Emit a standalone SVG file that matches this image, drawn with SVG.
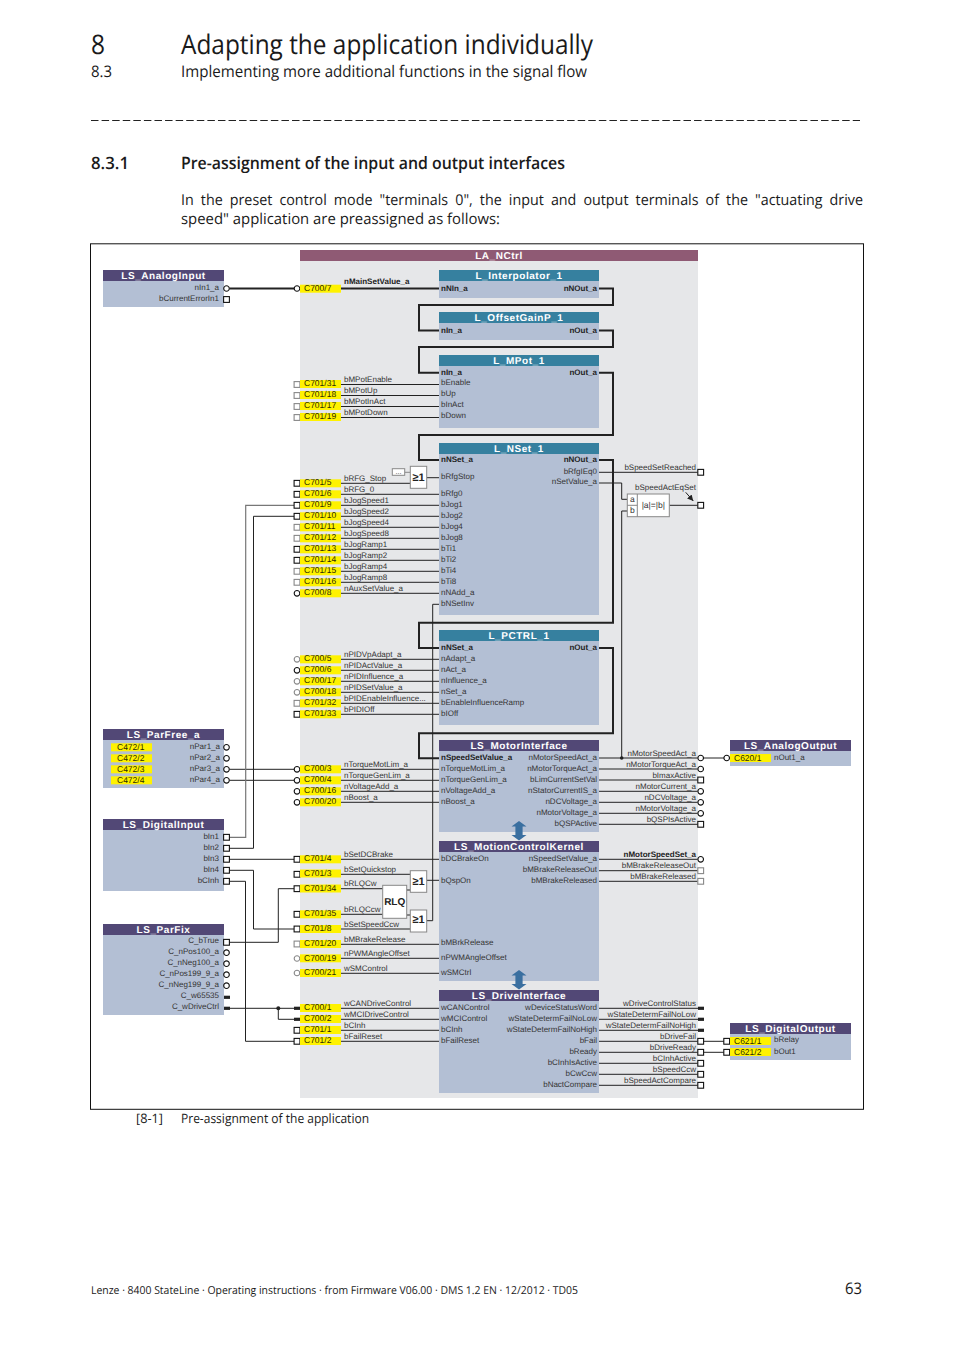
<svg xmlns="http://www.w3.org/2000/svg" width="954" height="1350" viewBox="0 0 954 1350">
<style>
text{font-family:"Liberation Sans",Arial,sans-serif;font-size:8px;fill:#333;text-rendering:geometricPrecision}
.p{font-family:"Open Sans","Noto Sans",sans-serif;fill:#1a1a1a}
.pb{font-weight:600}
.h{font-size:10px;font-weight:700;fill:#fff;text-anchor:middle;letter-spacing:.55px}
.e{text-anchor:end}
.c{font-size:8.5px;fill:#2c2a00}
.b{font-weight:700;fill:#222}
.hp{fill:#524876}.ht{fill:#36809f}.bd{fill:#b3bfd4}.yb{fill:#fff200}
.k{fill:#fff;stroke:#111;stroke-width:1.1}
.g{fill:#fff;stroke:#888;stroke-width:1.1}
.bar{fill:#222}
.gate{fill:#fff;stroke:#888;stroke-width:1}
.w{fill:none;stroke:#222;stroke-width:1}
.tk{fill:none;stroke:#222;stroke-width:2}
.gr{fill:none;stroke:#777;stroke-width:1.2}
.gt{font-size:11px;font-weight:700;fill:#222;text-anchor:middle}
</style>
<defs>
<rect id="sq" x="-2.9" y="-2.9" width="5.8" height="5.8"/>
<circle id="ci" r="2.8"/>
<rect id="bar" x="-3" y="-1.6" width="6" height="3.2"/>
<rect id="yb" class="yb" width="41" height="8"/>
<marker id="ah" markerWidth="7" markerHeight="7" refX="6" refY="3" orient="auto"><path d="M0 0L6 3L0 6z" fill="#222"/></marker>
<path id="dbl" d="M0 0L7.5 5.5H3.6V14H7.5L0 19.5L-7.5 14H-3.6V5.5H-7.5z" fill="#3a6fa0"/>
</defs>

<g id="page-text">
<text class="p" x="91" y="53.5" style="font-size:27px" textLength="14" lengthAdjust="spacingAndGlyphs">8</text>
<text class="p" x="181" y="53.5" style="font-size:27px" textLength="412" lengthAdjust="spacingAndGlyphs">Adapting the application individually</text>
<text class="p" x="91" y="77" style="font-size:16px" textLength="21" lengthAdjust="spacingAndGlyphs">8.3</text>
<text class="p" x="181" y="77" style="font-size:16px" textLength="406" lengthAdjust="spacingAndGlyphs">Implementing more additional functions in the signal flow</text>
<path d="M91 120.5H860" stroke="#222" stroke-width="1" stroke-dasharray="7.5 3.08" fill="none"/>
<text class="p pb" x="91" y="169" style="font-size:17px" textLength="38" lengthAdjust="spacingAndGlyphs">8.3.1</text>
<text class="p pb" x="181" y="169" style="font-size:17px" textLength="384" lengthAdjust="spacingAndGlyphs">Pre-assignment of the input and output interfaces</text>
<text class="p" x="181" y="205" style="font-size:15px;word-spacing:3.5px" textLength="682" lengthAdjust="spacingAndGlyphs">In the preset control mode "terminals 0", the input and output terminals of the "actuating drive</text>
<text class="p" x="181" y="224" style="font-size:15px" textLength="319" lengthAdjust="spacingAndGlyphs">speed" application are preassigned as follows:</text>
<text class="p" x="136" y="1123" style="font-size:13px" textLength="27" lengthAdjust="spacingAndGlyphs">[8-1]</text>
<text class="p" x="181" y="1123" style="font-size:13px" textLength="188" lengthAdjust="spacingAndGlyphs">Pre-assignment of the application</text>
<text class="p" x="91" y="1294" style="font-size:11px" textLength="487" lengthAdjust="spacingAndGlyphs">Lenze · 8400 StateLine · Operating instructions · from Firmware V06.00 · DMS 1.2 EN · 12/2012 · TD05</text>
<text class="p" x="845" y="1294" style="font-size:16px" textLength="17" lengthAdjust="spacingAndGlyphs">63</text>
</g>

<rect id="frame" x="90.5" y="243.8" width="773" height="865.5" fill="#fff" stroke="#111" stroke-width="1"/>

<g id="LA_NCtrl">
<rect x="300" y="261" width="398" height="837" fill="#e6e7e9"/>
<rect x="300" y="250" width="398" height="11" fill="#8f5a74"/>
<text class="h" x="499" y="259">LA_NCtrl</text>
</g>

<g id="connectors">
<path class="tk" d="M229.5 288.5H294.5M341 288.5H439M599 288.5H613V305H419V330.5H439M599 330.5H613V347H419V372.7H439M599 372.7H613V435H419V460H439M599 460H613V622.7H419V648H439M599 648H613V733.3H419V758.3H439"/>
<path class="w" d="M341 384.5H439M341 395.5H439M341 406.5H439M341 417.5H439
M341 483.3H410.3M426.7 477.7H439M341 494.3H439M341 505.3H439M341 516.3H439M341 527.3H439M341 538.3H439M341 549.3H439M341 560.3H439M341 571.3H439M341 582.3H439M341 593.3H439
M426.7 920.7H432.7V604.3H439
M599 472.3H697.7M599 483H621.7V499.3H627.3M669.3 505.3H697.7M627.3 511H621.7V758
M341 659.3H439M341 670.3H439M341 681.3H439M341 692.3H439M341 703.3H439M341 714.3H439
M229.5 769.3H294.5M229.5 780.3H294.5M341 769.3H439M341 780.3H439M341 791.3H439M341 802.3H439
M599 758H697.7M703.6 758H724M599 769H697.7M599 780H697.7M599 791.3H697.7M599 802.3H697.7M599 813.3H697.7M599 824.3H697.7
M229.5 859.3H294M341 859.3H439M341 874.3H410.3M341 888.7H382.7M341 914.3H382.7M341 929H410.3M406.7 890H410.3M406.7 915H410.3M426.7 880.3H439
M341 944.3H439M341 958.3H439M341 973.3H439
M599 859.3H697.7M599 870.7H697.7M599 881.3H697.7
M229.5 870.3H253.5V929H294M229.5 848.3H253.5V516.3H294M229.5 881.3H245.5V1041.3H294M229.5 942.3H278.3V888.7H294
M230 1008.3H294M278.3 1008.3V1019.3H294M341 1008.3H439M341 1019.3H439M341 1030.3H439M341 1041.3H439
M599 1008.3H698M599 1019.3H698M599 1030.3H698M599 1041.3H697.7M599 1052.3H697.7M599 1063.3H697.7M599 1074.3H697.7M599 1085.3H697.7M703.6 1041.3H724M703.6 1052.3H724"/>
<path class="gr" d="M229.5 837.3H245.7V505.3H294"/>
<path d="M404.7 472.3H410.3" stroke="#888" fill="none"/>
<path d="M685.7 492.3L693.3 501" stroke="#222" fill="none" marker-end="url(#ah)"/>
<circle cx="621.7" cy="758" r="1.8" fill="#222"/>
<circle cx="278.3" cy="1008.3" r="2" fill="#222"/>
</g>

<g id="LS_AnalogInput">
<rect class="bd" x="103" y="281" width="121" height="26"/><rect class="hp" x="103" y="270" width="121" height="11"/>
<text class="h" x="163.5" y="279">LS_AnalogInput</text>
<text class="e" x="219" y="290">nIn1_a</text><text class="e" x="219" y="301">bCurrentErrorIn1</text>
<use href="#ci" class="k" x="226.5" y="288.5"/><use href="#sq" class="k" x="226.5" y="299.5"/>
</g>

<g id="LS_ParFree_a">
<rect class="bd" x="103" y="740" width="121" height="48"/><rect class="hp" x="103" y="729" width="121" height="11"/>
<text class="h" x="163.5" y="738">LS_ParFree_a</text>
<use href="#yb" x="111" y="743.3"/><use href="#yb" x="111" y="754.3"/><use href="#yb" x="111" y="765.3"/><use href="#yb" x="111" y="776.3"/>
<text class="c" x="117" y="749.5">C472/1</text><text class="c" x="117" y="760.5">C472/2</text><text class="c" x="117" y="771.5">C472/3</text><text class="c" x="117" y="782.5">C472/4</text>
<text class="e" x="220" y="749">nPar1_a</text><text class="e" x="220" y="760">nPar2_a</text><text class="e" x="220" y="771">nPar3_a</text><text class="e" x="220" y="782">nPar4_a</text>
<use href="#ci" class="k" x="226.5" y="747.3"/><use href="#ci" class="k" x="226.5" y="758.3"/><use href="#ci" class="k" x="226.5" y="769.3"/><use href="#ci" class="k" x="226.5" y="780.3"/>
</g>

<g id="LS_DigitalInput">
<rect class="bd" x="103" y="830" width="121" height="61"/><rect class="hp" x="103" y="819" width="121" height="11"/>
<text class="h" x="163.5" y="828">LS_DigitalInput</text>
<text class="e" x="219" y="839">bIn1</text><text class="e" x="219" y="850">bIn2</text><text class="e" x="219" y="861">bIn3</text><text class="e" x="219" y="872">bIn4</text><text class="e" x="219" y="883">bCInh</text>
<use href="#sq" class="k" x="226.5" y="837.3"/><use href="#sq" class="k" x="226.5" y="848.3"/><use href="#sq" class="k" x="226.5" y="859.3"/><use href="#sq" class="k" x="226.5" y="870.3"/><use href="#sq" class="k" x="226.5" y="881.3"/>
</g>

<g id="LS_ParFix">
<rect class="bd" x="103" y="935" width="121" height="80"/><rect class="hp" x="103" y="924" width="121" height="11"/>
<text class="h" x="163.5" y="933">LS_ParFix</text>
<text class="e" x="219" y="943">C_bTrue</text><text class="e" x="219" y="954">C_nPos100_a</text><text class="e" x="219" y="965">C_nNeg100_a</text><text class="e" x="219" y="976">C_nPos199_9_a</text><text class="e" x="219" y="987">C_nNeg199_9_a</text><text class="e" x="219" y="998">C_w65535</text><text class="e" x="219" y="1009">C_wDriveCtrl</text>
<use href="#sq" class="k" x="226.5" y="942.3"/><use href="#ci" class="k" x="226.5" y="952.7"/><use href="#ci" class="k" x="226.5" y="963.7"/><use href="#ci" class="k" x="226.5" y="974.7"/><use href="#ci" class="k" x="226.5" y="985.7"/><use href="#bar" class="bar" x="227" y="997.3"/><use href="#bar" class="bar" x="227" y="1008.3"/>
</g>

<g id="terminals-main">
<use href="#ci" class="k" x="297" y="288.5"/><use href="#yb" x="300" y="284.7"/><text class="c" x="304" y="291">C700/7</text><text class="b" x="344" y="284">nMainSetValue_a</text>
<use href="#sq" class="g" x="297" y="384.5"/><use href="#yb" x="300" y="380"/><text class="c" x="304" y="386.3">C701/31</text><text x="344" y="382">bMPotEnable</text>
<use href="#sq" class="g" x="297" y="395.5"/><use href="#yb" x="300" y="391"/><text class="c" x="304" y="397.3">C701/18</text><text x="344" y="393">bMPotUp</text>
<use href="#sq" class="g" x="297" y="406.5"/><use href="#yb" x="300" y="402"/><text class="c" x="304" y="408.3">C701/17</text><text x="344" y="404">bMPotInAct</text>
<use href="#sq" class="g" x="297" y="417.5"/><use href="#yb" x="300" y="413"/><text class="c" x="304" y="419.3">C701/19</text><text x="344" y="415">bMPotDown</text>
</g>

<g id="terminals-nset">
<use href="#sq" class="k" x="297" y="483.3"/><use href="#yb" x="300" y="479.3"/><text class="c" x="304" y="485.3">C701/5</text><text x="344" y="480.8">bRFG_Stop</text>
<use href="#sq" class="k" x="297" y="494.3"/><use href="#yb" x="300" y="490.3"/><text class="c" x="304" y="496.3">C701/6</text><text x="344" y="491.8">bRFG_0</text>
<use href="#sq" class="k" x="297" y="505.3"/><use href="#yb" x="300" y="501.3"/><text class="c" x="304" y="507.3">C701/9</text><text x="344" y="502.8">bJogSpeed1</text>
<use href="#sq" class="k" x="297" y="516.3"/><use href="#yb" x="300" y="512.3"/><text class="c" x="304" y="518.3">C701/10</text><text x="344" y="513.8">bJogSpeed2</text>
<use href="#sq" class="g" x="297" y="527.3"/><use href="#yb" x="300" y="523.3"/><text class="c" x="304" y="529.3">C701/11</text><text x="344" y="524.8">bJogSpeed4</text>
<use href="#sq" class="g" x="297" y="538.3"/><use href="#yb" x="300" y="534.3"/><text class="c" x="304" y="540.3">C701/12</text><text x="344" y="535.8">bJogSpeed8</text>
<use href="#sq" class="k" x="297" y="549.3"/><use href="#yb" x="300" y="545.3"/><text class="c" x="304" y="551.3">C701/13</text><text x="344" y="546.8">bJogRamp1</text>
<use href="#sq" class="k" x="297" y="560.3"/><use href="#yb" x="300" y="556.3"/><text class="c" x="304" y="562.3">C701/14</text><text x="344" y="557.8">bJogRamp2</text>
<use href="#sq" class="g" x="297" y="571.3"/><use href="#yb" x="300" y="567.3"/><text class="c" x="304" y="573.3">C701/15</text><text x="344" y="568.8">bJogRamp4</text>
<use href="#sq" class="g" x="297" y="582.3"/><use href="#yb" x="300" y="578.3"/><text class="c" x="304" y="584.3">C701/16</text><text x="344" y="579.8">bJogRamp8</text>
<use href="#ci" class="k" x="297" y="593.3"/><use href="#yb" x="300" y="589.3"/><text class="c" x="304" y="595.3">C700/8</text><text x="344" y="590.8">nAuxSetValue_a</text>
</g>

<g id="terminals-pctrl">
<use href="#ci" class="g" x="297" y="659.3"/><use href="#yb" x="300" y="655.3"/><text class="c" x="304" y="661.3">C700/5</text><text x="344" y="656.8">nPIDVpAdapt_a</text>
<use href="#ci" class="k" x="297" y="670.3"/><use href="#yb" x="300" y="666.3"/><text class="c" x="304" y="672.3">C700/6</text><text x="344" y="667.8">nPIDActValue_a</text>
<use href="#ci" class="g" x="297" y="681.3"/><use href="#yb" x="300" y="677.3"/><text class="c" x="304" y="683.3">C700/17</text><text x="344" y="678.8">nPIDInfluence_a</text>
<use href="#ci" class="g" x="297" y="692.3"/><use href="#yb" x="300" y="688.3"/><text class="c" x="304" y="694.3">C700/18</text><text x="344" y="689.8">nPIDSetValue_a</text>
<use href="#sq" class="g" x="297" y="703.3"/><use href="#yb" x="300" y="699.3"/><text class="c" x="304" y="705.3">C701/32</text><text x="344" y="700.8">bPIDEnableInfluence...</text>
<use href="#sq" class="k" x="297" y="714.3"/><use href="#yb" x="300" y="710.3"/><text class="c" x="304" y="716.3">C701/33</text><text x="344" y="711.8">bPIDIOff</text>
</g>

<g id="terminals-motor">
<use href="#ci" class="k" x="297" y="769.3"/><use href="#yb" x="300" y="765.3"/><text class="c" x="304" y="771.3">C700/3</text><text x="344" y="766.8">nTorqueMotLim_a</text>
<use href="#ci" class="k" x="297" y="780.3"/><use href="#yb" x="300" y="776.3"/><text class="c" x="304" y="782.3">C700/4</text><text x="344" y="777.8">nTorqueGenLim_a</text>
<use href="#ci" class="k" x="297" y="791.3"/><use href="#yb" x="300" y="787.3"/><text class="c" x="304" y="793.3">C700/16</text><text x="344" y="788.8">nVoltageAdd_a</text>
<use href="#ci" class="k" x="297" y="802.3"/><use href="#yb" x="300" y="798.3"/><text class="c" x="304" y="804.3">C700/20</text><text x="344" y="799.8">nBoost_a</text>
</g>

<g id="terminals-kernel">
<use href="#sq" class="k" x="297" y="859.3"/><use href="#yb" x="300" y="855.3"/><text class="c" x="304" y="861.3">C701/4</text><text x="344" y="856.8">bSetDCBrake</text>
<use href="#sq" class="k" x="297" y="874.3"/><use href="#yb" x="300" y="869.5"/><text class="c" x="304" y="875.8">C701/3</text><text x="344" y="871.5">bSetQuickstop</text>
<use href="#sq" class="k" x="297" y="888.7"/><use href="#yb" x="300" y="884.5"/><text class="c" x="304" y="890.8">C701/34</text><text x="344" y="885.5">bRLQCw</text>
<use href="#sq" class="k" x="297" y="914.3"/><use href="#yb" x="300" y="910.3"/><text class="c" x="304" y="916.3">C701/35</text><text x="344" y="911.7">bRLQCcw</text>
<use href="#sq" class="k" x="297" y="929"/><use href="#yb" x="300" y="925"/><text class="c" x="304" y="931">C701/8</text><text x="344" y="926.7">bSetSpeedCcw</text>
<use href="#sq" class="g" x="297" y="944"/><use href="#yb" x="300" y="940"/><text class="c" x="304" y="946">C701/20</text><text x="344" y="941.7">bMBrakeRelease</text>
<use href="#ci" class="g" x="297" y="958.5"/><use href="#yb" x="300" y="954.3"/><text class="c" x="304" y="960.5">C700/19</text><text x="344" y="955.7">nPWMAngleOffset</text>
<use href="#ci" class="g" x="297" y="973"/><use href="#yb" x="300" y="969"/><text class="c" x="304" y="975">C700/21</text><text x="344" y="970.7">wSMControl</text>
</g>

<g id="terminals-drive">
<use href="#bar" class="bar" x="297" y="1008.3"/><use href="#yb" x="300" y="1004"/><text class="c" x="304" y="1010.3">C700/1</text><text x="344" y="1005.7">wCANDriveControl</text>
<use href="#bar" class="bar" x="297" y="1019.3"/><use href="#yb" x="300" y="1015"/><text class="c" x="304" y="1021.3">C700/2</text><text x="344" y="1016.7">wMCIDriveControl</text>
<use href="#sq" class="k" x="297" y="1030.3"/><use href="#yb" x="300" y="1026"/><text class="c" x="304" y="1032.3">C701/1</text><text x="344" y="1027.7">bCInh</text>
<use href="#sq" class="k" x="297" y="1041.3"/><use href="#yb" x="300" y="1037"/><text class="c" x="304" y="1043.3">C701/2</text><text x="344" y="1038.7">bFailReset</text>
</g>

<g id="L_Interpolator_1">
<rect class="bd" x="439" y="281" width="160" height="17"/><rect class="ht" x="439" y="270" width="160" height="11"/>
<text class="h" x="519" y="279">L_Interpolator_1</text>
<text class="b" x="441" y="290.5">nNIn_a</text><text class="b e" x="597" y="290.5">nNOut_a</text>
</g>
<g id="L_OffsetGainP_1">
<rect class="bd" x="439" y="323" width="160" height="17"/><rect class="ht" x="439" y="312" width="160" height="11"/>
<text class="h" x="519" y="321">L_OffsetGainP_1</text>
<text class="b" x="441" y="332.5">nIn_a</text><text class="b e" x="597" y="332.5">nOut_a</text>
</g>
<g id="L_MPot_1">
<rect class="bd" x="439" y="366" width="160" height="62"/><rect class="ht" x="439" y="355" width="160" height="11"/>
<text class="h" x="519" y="364">L_MPot_1</text>
<text class="b" x="441" y="374.5">nIn_a</text><text class="b e" x="597" y="374.5">nOut_a</text>
<text x="441" y="385">bEnable</text><text x="441" y="396">bUp</text><text x="441" y="407">bInAct</text><text x="441" y="418">bDown</text>
</g>
<g id="L_NSet_1">
<rect class="bd" x="439" y="454" width="160" height="161"/><rect class="ht" x="439" y="443" width="160" height="11"/>
<text class="h" x="519" y="452">L_NSet_1</text>
<text class="b" x="441" y="461.8">nNSet_a</text><text class="b e" x="597" y="461.8">nNOut_a</text>
<text class="e" x="597" y="473.5">bRfgIEq0</text><text class="e" x="597" y="484">nSetValue_a</text>
<text x="441" y="479">bRfgStop</text><text x="441" y="495.7">bRfg0</text><text x="441" y="507">bJog1</text><text x="441" y="518">bJog2</text><text x="441" y="529">bJog4</text><text x="441" y="540">bJog8</text><text x="441" y="551">bTi1</text><text x="441" y="562">bTi2</text><text x="441" y="573">bTi4</text><text x="441" y="584">bTi8</text><text x="441" y="595">nNAdd_a</text><text x="441" y="606">bNSetInv</text>
</g>
<g id="L_PCTRL_1">
<rect class="bd" x="439" y="641" width="160" height="84"/><rect class="ht" x="439" y="630" width="160" height="11"/>
<text class="h" x="519" y="639">L_PCTRL_1</text>
<text class="b" x="441" y="650">nNSet_a</text><text class="b e" x="597" y="650">nOut_a</text>
<text x="441" y="661">nAdapt_a</text><text x="441" y="672">nAct_a</text><text x="441" y="683">nInfluence_a</text><text x="441" y="694">nSet_a</text><text x="441" y="705">bEnableInfluenceRamp</text><text x="441" y="716">bIOff</text>
</g>
<g id="LS_MotorInterface">
<rect class="bd" x="439" y="751" width="160" height="81"/><rect class="hp" x="439" y="740" width="160" height="11"/>
<text class="h" x="519" y="749">LS_MotorInterface</text>
<text class="b" x="441" y="760">nSpeedSetValue_a</text><text x="441" y="771">nTorqueMotLim_a</text><text x="441" y="782">nTorqueGenLim_a</text><text x="441" y="793">nVoltageAdd_a</text><text x="441" y="804">nBoost_a</text>
<text class="e" x="597" y="760">nMotorSpeedAct_a</text><text class="e" x="597" y="771">nMotorTorqueAct_a</text><text class="e" x="597" y="782">bLimCurrentSetVal</text><text class="e" x="597" y="793">nStatorCurrentIS_a</text><text class="e" x="597" y="804">nDCVoltage_a</text><text class="e" x="597" y="815">nMotorVoltage_a</text><text class="e" x="597" y="826">bQSPActive</text>
</g>
<g id="LS_MotionControlKernel">
<rect class="bd" x="439" y="852" width="160" height="129"/><rect class="hp" x="439" y="841" width="160" height="11"/>
<text class="h" x="519" y="850">LS_MotionControlKernel</text>
<text x="441" y="861">bDCBrakeOn</text><text x="441" y="882.7">bQspOn</text><text x="441" y="945">bMBrkRelease</text><text x="441" y="960">nPWMAngleOffset</text><text x="441" y="975">wSMCtrl</text>
<text class="e" x="597" y="861">nSpeedSetValue_a</text><text class="e" x="597" y="872">bMBrakeReleaseOut</text><text class="e" x="597" y="882.7">bMBrakeReleased</text>
</g>
<g id="LS_DriveInterface">
<rect class="bd" x="439" y="1001" width="160" height="92"/><rect class="hp" x="439" y="990" width="160" height="11"/>
<text class="h" x="519" y="998.5">LS_DriveInterface</text>
<text x="441" y="1009.8">wCANControl</text><text x="441" y="1020.8">wMCIControl</text><text x="441" y="1031.8">bCInh</text><text x="441" y="1042.8">bFailReset</text>
<text class="e" x="597" y="1009.8">wDeviceStatusWord</text><text class="e" x="597" y="1020.8">wStateDetermFailNoLow</text><text class="e" x="597" y="1031.8">wStateDetermFailNoHigh</text><text class="e" x="597" y="1042.8">bFail</text><text class="e" x="597" y="1053.8">bReady</text><text class="e" x="597" y="1064.8">bCInhIsActive</text><text class="e" x="597" y="1075.8">bCwCcw</text><text class="e" x="597" y="1086.8">bNactCompare</text>
</g>
<g id="coupling-arrows">
<use href="#dbl" x="519" y="821"/><use href="#dbl" x="519" y="970"/>
</g>

<g id="gate-or-1">
<rect class="gate" x="392.3" y="468.7" width="12.4" height="6.6"/><text x="398.5" y="474" text-anchor="middle" style="font-size:7px">...</text>
<rect class="gate" x="410.3" y="466.3" width="16.4" height="22"/><text class="gt" x="418.5" y="480.5">≥1</text>
</g>
<g id="gate-or-2"><rect class="gate" x="410.3" y="870.7" width="16.4" height="21.6"/><text class="gt" x="418.5" y="884.5">≥1</text></g>
<g id="gate-or-3"><rect class="gate" x="410.3" y="910" width="16.4" height="22"/><text class="gt" x="418.5" y="923">≥1</text></g>
<g id="gate-rlq"><rect class="gate" x="382.7" y="885.3" width="24" height="33"/><text class="gt" x="394.7" y="904.5" style="font-size:10px">RLQ</text></g>
<g id="gate-compare">
<rect class="gate" x="627.3" y="494" width="42" height="22.7"/><path d="M637.3 494V516.7M627.3 505.3H637.3" stroke="#888" fill="none"/>
<text x="632.3" y="501.5" text-anchor="middle" style="font-size:8.5px">a</text><text x="632.3" y="513" text-anchor="middle" style="font-size:8.5px">b</text>
<text x="653.3" y="507.5" text-anchor="middle" style="font-size:8.5px">|a|=|b|</text>
</g>

<g id="outputs">
<text class="e" x="696" y="469.7">bSpeedSetReached</text><use href="#sq" class="k" x="700.7" y="472.3"/>
<text class="e" x="696" y="490">bSpeedActEqSet</text><use href="#sq" class="k" x="700.7" y="505.3"/>
<text class="e" x="696" y="755.7">nMotorSpeedAct_a</text><use href="#ci" class="k" x="700.7" y="758"/>
<text class="e" x="696" y="766.7">nMotorTorqueAct_a</text><use href="#ci" class="k" x="700.7" y="769"/>
<text class="e" x="696" y="777.7">bImaxActive</text><use href="#sq" class="k" x="700.7" y="780"/>
<text class="e" x="696" y="788.7">nMotorCurrent_a</text><use href="#ci" class="k" x="700.7" y="791.3"/>
<text class="e" x="696" y="799.7">nDCVoltage_a</text><use href="#ci" class="k" x="700.7" y="802.3"/>
<text class="e" x="696" y="810.7">nMotorVoltage_a</text><use href="#ci" class="k" x="700.7" y="813.3"/>
<text class="e" x="696" y="821.7">bQSPIsActive</text><use href="#sq" class="k" x="700.7" y="824.3"/>
<text class="b e" x="696" y="856.7">nMotorSpeedSet_a</text><use href="#ci" class="k" x="700.7" y="859.3"/>
<text class="e" x="696" y="867.7">bMBrakeReleaseOut</text><use href="#sq" class="g" x="700.7" y="870.7"/>
<text class="e" x="696" y="878.7">bMBrakeReleased</text><use href="#sq" class="g" x="700.7" y="881.3"/>
<text class="e" x="696" y="1005.7">wDriveControlStatus</text><use href="#bar" class="bar" x="701" y="1008.3"/>
<text class="e" x="696" y="1016.7">wStateDetermFailNoLow</text><use href="#bar" class="bar" x="701" y="1019.3"/>
<text class="e" x="696" y="1027.7">wStateDetermFailNoHigh</text><use href="#bar" class="bar" x="701" y="1030.3"/>
<text class="e" x="696" y="1038.7">bDriveFail</text><use href="#sq" class="k" x="700.7" y="1041.3"/>
<text class="e" x="696" y="1049.7">bDriveReady</text><use href="#sq" class="k" x="700.7" y="1052.3"/>
<text class="e" x="696" y="1060.7">bCInhActive</text><use href="#sq" class="k" x="700.7" y="1063.3"/>
<text class="e" x="696" y="1071.7">bSpeedCcw</text><use href="#sq" class="k" x="700.7" y="1074.3"/>
<text class="e" x="696" y="1082.7">bSpeedActCompare</text><use href="#sq" class="k" x="700.7" y="1085.3"/>
</g>

<g id="LS_AnalogOutput">
<rect class="bd" x="730" y="751" width="121" height="15"/><rect class="hp" x="730" y="740" width="121" height="11"/>
<text class="h" x="790.5" y="749">LS_AnalogOutput</text>
<use href="#ci" class="k" x="726.7" y="758"/><use href="#yb" x="730" y="754"/><text class="c" x="734" y="760.5">C620/1</text><text x="774" y="760">nOut1_a</text>
</g>
<g id="LS_DigitalOutput">
<rect class="bd" x="730" y="1034" width="121" height="26"/><rect class="hp" x="730" y="1023" width="121" height="11"/>
<text class="h" x="790.5" y="1032">LS_DigitalOutput</text>
<use href="#sq" class="k" x="726.7" y="1041.3"/><use href="#yb" x="730" y="1037"/><text class="c" x="734" y="1043.5">C621/1</text><text x="774" y="1042">bRelay</text>
<use href="#sq" class="k" x="726.7" y="1052.3"/><use href="#yb" x="730" y="1048"/><text class="c" x="734" y="1054.5">C621/2</text><text x="774" y="1053.5">bOut1</text>
</g>
</svg>
